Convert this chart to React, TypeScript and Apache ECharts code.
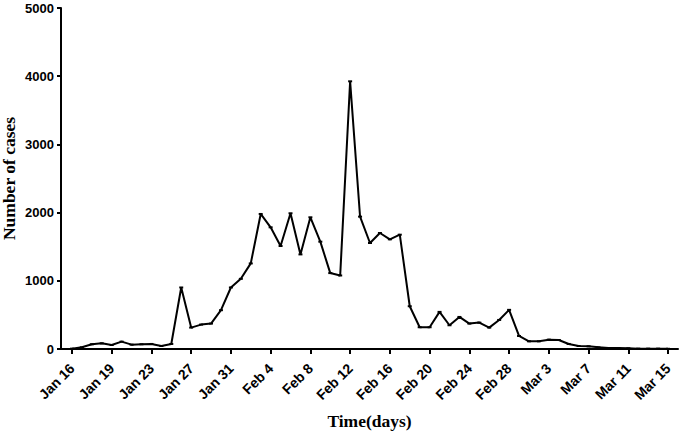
import React, { useEffect, useRef } from "react";
import * as echarts from "echarts";

const tickLabels = [
  "Jan 16", "Jan 19", "Jan 23", "Jan 27", "Jan 31", "Feb 4", "Feb 8", "Feb 12",
  "Feb 16", "Feb 20", "Feb 24", "Feb 28", "Mar 3", "Mar 7", "Mar 11", "Mar 15",
];

// daily new cases, one per day (61 days)
const cases = [
  5, 25, 69, 83, 59, 108, 64, 69, 74, 44,
  74, 902, 314, 358, 373, 569, 902, 1029, 1255, 1980,
  1784, 1510, 1990, 1387, 1931, 1574, 1113, 1078, 3925, 1941,
  1554, 1701, 1608, 1676, 627, 319, 319, 544, 348, 470,
  373, 387, 314, 426, 574, 191, 113, 113, 137, 132,
  74, 44, 39, 25, 15, 15, 10, 5, 5, 5,
  3,
];

const yTicks = [0, 1000, 2000, 3000, 4000, 5000];

export default function App() {
  const ref = useRef<HTMLDivElement>(null);
  useEffect(() => {
    if (!ref.current) return;
    const chart = echarts.init(ref.current, null, { renderer: "svg" });
    const tickPos = tickLabels.map((_, i) => i * 4);
    chart.setOption({
      animation: false,
      backgroundColor: "#ffffff",
      grid: {
        left: 61,
        right: 3,
        top: 8,
        bottom: 85,
        containLabel: false,
        outerBoundsMode: "none",
      },
      xAxis: {
        type: "value",
        min: -1.1,
        max: 61,
        name: "Time(days)",
        nameLocation: "middle",
        nameGap: 63,
        nameMoveOverlap: false,
        nameTextStyle: {
          fontFamily: "Liberation Serif",
          fontWeight: "bold",
          fontSize: 17.5,
          color: "#000",
        },
        splitLine: { show: false },
        axisLine: { onZero: false, lineStyle: { color: "#000", width: 2 } },
        axisTick: {
          show: true,
          customValues: tickPos,
          length: 5,
          lineStyle: { color: "#000", width: 2 },
        },
        axisLabel: {
          customValues: tickPos,
          rotate: 45,
          margin: 17,
          hideOverlap: false,
          fontFamily: "Liberation Sans",
          fontWeight: "bold",
          fontSize: 14,
          color: "#000",
          formatter: (v: number) => tickLabels[Math.round(v / 4)] ?? "",
        },
      },
      yAxis: {
        type: "value",
        min: yTicks[0],
        max: yTicks[yTicks.length - 1],
        interval: 1000,
        name: "Number of cases",
        nameLocation: "middle",
        nameGap: 43,
        nameMoveOverlap: false,
        nameTextStyle: {
          fontFamily: "Liberation Serif",
          fontWeight: "bold",
          fontSize: 17.5,
          color: "#000",
        },
        splitLine: { show: false },
        axisLine: { show: true, onZero: false, lineStyle: { color: "#000", width: 2 } },
        axisTick: { show: true, length: 4, lineStyle: { color: "#000", width: 2 } },
        axisLabel: {
          margin: 7,
          fontFamily: "Liberation Sans",
          fontWeight: "bold",
          fontSize: 13,
          color: "#000",
          formatter: (v: number) => String(v),
        },
      },
      series: [
        {
          type: "line",
          data: cases.map((v, i) => [i, v]),
          lineStyle: { color: "#000", width: 2 },
          itemStyle: { color: "#000" },
          symbol: "rect",
          symbolSize: [4, 2],
          showSymbol: true,
          showAllSymbol: true,
        },
      ],
    });
    return () => chart.dispose();
  }, []);
  return <div ref={ref} style={{ width: 681, height: 434, position: "absolute", left: 0, top: 0 }} />;
}
